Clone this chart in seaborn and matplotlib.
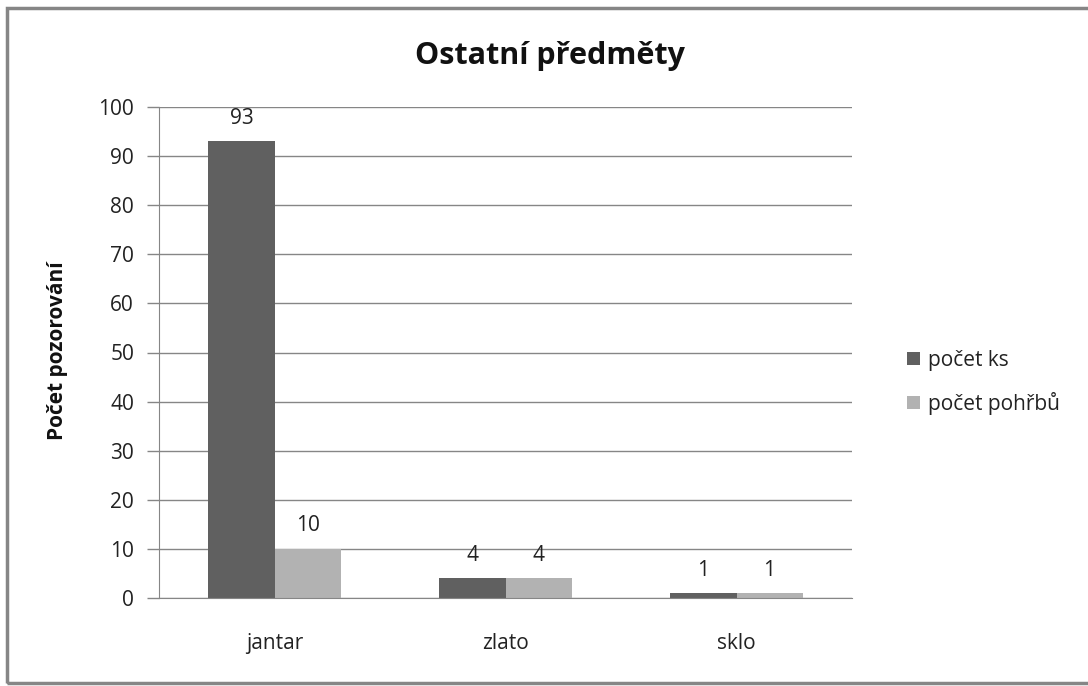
import numpy as np
import matplotlib
matplotlib.use("Agg")
import matplotlib.pyplot as plt
import pandas as pd
import seaborn as sns
from matplotlib.patches import Rectangle

categories = ["jantar", "zlato", "sklo"]
series_names = ["počet ks", "počet pohřbů"]
pocet_ks = [93, 4, 1]
pocet_pohrbu = [10, 4, 1]
y_ticks = list(range(0, 101, 10))

colors = ["#606060", "#b2b2b2"]
grid_color = "#868686"
text_color = "#222222"

df = pd.DataFrame({
    "kategorie": categories * 2,
    "serie": [series_names[0]] * 3 + [series_names[1]] * 3,
    "hodnota": pocet_ks + pocet_pohrbu,
})

sns.set_style("white")
plt.rcParams["font.family"] = ["Open Sans", "DejaVu Sans"]

fig = plt.figure(figsize=(10.88, 6.86), dpi=100)
ax = fig.add_axes([159 / 1088, 88 / 686, 693 / 1088, 491 / 686])

sns.barplot(
    data=df, x="kategorie", y="hodnota", hue="serie",
    order=categories, hue_order=series_names,
    palette=colors, width=0.572, saturation=1, linewidth=0,
    ax=ax, legend=True,
)

for cont in ax.containers:
    ax.bar_label(cont, padding=9, fontsize=15, color=text_color)

ax.set_ylim(0, 100)
ax.set_yticks(y_ticks)
ax.set_xlim(-0.5, 2.5)
ax.yaxis.grid(True, color=grid_color, linewidth=1)
ax.set_axisbelow(True)
for side in ["top", "right"]:
    ax.spines[side].set_visible(False)
ax.spines["left"].set_color(grid_color)
ax.spines["bottom"].set_color(grid_color)
ax.tick_params(axis="y", left=True, length=9, width=1, color=grid_color,
               labelsize=15, pad=9, labelcolor=text_color)
ax.tick_params(axis="x", bottom=False, labelsize=15, pad=22, labelcolor=text_color)
ax.set_xlabel("")
ax.set_ylabel("Počet pozorování", fontsize=15, fontweight="bold", color="#111111")
ax.yaxis.set_label_coords(-0.131, 0.503)

ax.legend(loc="center left", bbox_to_anchor=(897 / 1088, 0.443),
          bbox_transform=fig.transFigure, frameon=False, borderpad=0,
          fontsize=15, handlelength=0.6, handleheight=0.6, handletextpad=0.38,
          labelspacing=1.0, labelcolor=text_color)

fig.text(550 / 1088, (686 - 64) / 686, "Ostatní předměty", ha="center",
         va="baseline", fontsize=22, fontweight="bold", color="#111111")

fig.patches.append(Rectangle((7 / 1088, 3 / 686), 1.2, 675 / 686,
                             transform=fig.transFigure, fill=False,
                             edgecolor=grid_color, linewidth=2.5))

fig.savefig("out.png", dpi=100)
